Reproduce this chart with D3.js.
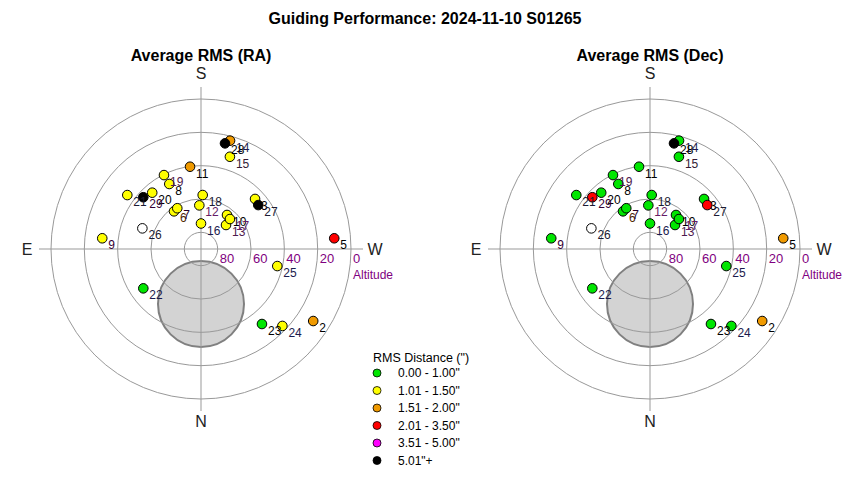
<!DOCTYPE html>
<html>
<head>
<meta charset="utf-8">
<script src="https://cdn.jsdelivr.net/npm/d3@7"></script>
<style>
  body { margin: 0; background: #fff; }
  svg { font-family: "Liberation Sans", Arial, sans-serif; }
</style>
</head>
<body>
<div id="chart"></div>
<script>
// Guide frames: id, azimuth (deg, N=0, E=90), altitude (deg)
var frameIds  = [2, 3, 5, 6, 7, 8, 9, 10, 11, 12, 13, 14, 15, 16, 17, 18, 19, 20, 21, 22, 23, 24, 25, 26, 27, 28, 29];
var azimuth   = [302.7, 227.2, 265.4, 144.4, 149.8, 154.0, 96.2, 217.4, 172.4, 177.8, 226.2, 195.0, 197.4, 180.0, 224.0, 181.8, 153.4, 139.1, 126.2, 55.7, 320.9, 313.4, 282.6, 109.4, 232.5, 192.8, 131.9];
var altitude  = [10.0, 45.8, 9.8, 62.2, 61.7, 46.6, 30.4, 64.3, 40.2, 63.8, 69.2, 22.7, 32.0, 74.7, 65.0, 57.6, 40.4, 45.3, 35.2, 48.1, 32.0, 22.8, 43.1, 52.7, 46.7, 25.0, 43.5];
// Average RMS values in arcsec (null = no data)
var rmsRA     = [1.8, 1.3, 2.4, 1.2, 1.3, 1.2, 1.4, 1.3, 1.7, 1.2, 1.3, 1.6, 1.4, 1.2, 1.3, 1.1, 1.2, 1.3, 1.4, 0.9, 0.9, 1.2, 1.3, null, 5.5, 6.2, 5.3];
var rmsDec    = [1.6, 0.8, 1.7, 0.7, 0.7, 0.8, 0.9, 0.6, 0.8, 0.7, 0.6, 0.9, 0.8, 0.7, 0.6, 0.7, 0.8, 0.9, 0.9, 0.8, 0.7, 0.6, 0.8, null, 2.3, 5.6, 2.6];

var altTicks   = [80, 60, 40, 20, 0];
var binEdges   = [1.005, 1.505, 2.005, 3.505, 5.005];
var binLabels  = ['0.00 - 1.00"', '1.01 - 1.50"', '1.51 - 2.00"', '2.01 - 3.50"', '3.51 - 5.00"', '5.01"+'];
var binColors  = ["#00e600", "#ffff00", "#f09a00", "#ff0000", "#ff00ff", "#000000"];

// pole / obstruction zone
var zoneAz = 0, zoneAlt = 57, zoneRadius = 25.8;

// label colours per frame id
var labelColor = { 6: "#4d2600", 7: "#260026", 12: "#661a66", 13: "#4d1a4d", 15: "#331a33", 17: "#661a66", 19: "#4d1a4d", 29: "#330033", 9: "#330033",
                   14: "#1a1a4d", 16: "#1a1a4d", 18: "#1a1a33", 21: "#1a1a33", 22: "#1a1a4d", 24: "#1a1a4d", 25: "#1a1a4d", 26: "#1a1a33", 27: "#1a1a33" };

window.onload = function() {
    var width = 850, height = 480, R = 150;

    var svg = d3.select("#chart").append("svg")
        .attr("width", width)
        .attr("height", height);

    var r = d3.scaleLinear().domain([90, 0]).range([0, R]);
    var color = d3.scaleThreshold().domain(binEdges).range(binColors);

    function px(az, alt) {
        var a = az * Math.PI / 180;
        return [-r(alt) * Math.sin(a), r(alt) * Math.cos(a)];
    }

    svg.append("text")
        .attr("x", 425).attr("y", 24)
        .attr("text-anchor", "middle")
        .attr("font-size", 16).attr("font-weight", "bold")
        .text("Guiding Performance: 2024-11-10 S01265");

    var frames = frameIds.map(function(id, i) {
        return { id: id, az: azimuth[i], alt: altitude[i], ra: rmsRA[i], dec: rmsDec[i] };
    });

    function drawPolar(cx, cy, title, key) {
        var g = svg.append("g").attr("transform", "translate(" + cx + "," + cy + ")");

        g.append("text")
            .attr("x", 0).attr("y", -188)
            .attr("text-anchor", "middle")
            .attr("font-size", 16).attr("font-weight", "bold")
            .text(title);

        // obstruction zone
        var zc = px(zoneAz, zoneAlt);
        g.append("circle")
            .attr("cx", zc[0]).attr("cy", zc[1])
            .attr("r", r(90 - zoneRadius))
            .attr("fill", "#d3d3d3")
            .attr("stroke", "#808080")
            .attr("stroke-width", 2);

        // rings
        g.selectAll(".ring").data(altTicks).enter().append("circle")
            .attr("r", function(d) { return r(d); })
            .attr("fill", "none")
            .attr("stroke", "#999")
            .attr("stroke-width", 1);

        var ext = R + 12;
        g.append("line").attr("x1", -ext).attr("x2", ext).attr("y1", 0).attr("y2", 0).attr("stroke", "#999");
        g.append("line").attr("y1", -ext).attr("y2", ext).attr("x1", 0).attr("x2", 0).attr("stroke", "#999");

        // altitude labels
        g.selectAll(".alt").data(altTicks).enter().append("text")
            .attr("x", function(d) { return r(d) + 2; })
            .attr("y", 14)
            .attr("font-size", 13)
            .attr("fill", "#800080")
            .text(function(d) { return d; });
        g.append("text")
            .attr("x", R + 2).attr("y", 30)
            .attr("font-size", 12)
            .attr("fill", "#800080")
            .text("Altitude");

        // compass
        var comp = [["S", 0, -R - 20], ["N", 0, R + 28], ["E", -R - 24, 6], ["W", R + 24, 6]];
        g.selectAll(".cmp").data(comp).enter().append("text")
            .attr("x", function(d) { return d[1]; })
            .attr("y", function(d) { return d[2]; })
            .attr("text-anchor", "middle")
            .attr("font-size", 16)
            .attr("fill", "#222")
            .text(function(d) { return d[0]; });

        // points
        g.selectAll(".pt").data(frames).enter().append("circle")
            .attr("cx", function(d) { return px(d.az, d.alt)[0]; })
            .attr("cy", function(d) { return px(d.az, d.alt)[1]; })
            .attr("r", 4.8)
            .attr("fill", function(d) { return d[key] == null ? "#fff" : color(d[key]); })
            .attr("stroke", "#000")
            .attr("stroke-width", 1);

        g.selectAll(".lbl").data(frames).enter().append("text")
            .attr("x", function(d) { return px(d.az, d.alt)[0] + 6; })
            .attr("y", function(d) { return px(d.az, d.alt)[1] + 11; })
            .attr("font-size", 12)
            .attr("fill", function(d) { return labelColor[d.id] || "#000"; })
            .text(function(d) { return d.id; });
    }

    drawPolar(201, 249, "Average RMS (RA)", "ra");
    drawPolar(650, 249, "Average RMS (Dec)", "dec");

    // legend
    var lg = svg.append("g").attr("transform", "translate(373,362)");
    lg.append("text")
        .attr("x", 0).attr("y", 0)
        .attr("font-size", 12.5)
        .text('RMS Distance (")');
    var items = lg.selectAll(".li").data(binLabels).enter().append("g")
        .attr("transform", function(d, i) { return "translate(0," + (11 + i * 17.5) + ")"; });
    items.append("circle")
        .attr("cx", 4).attr("cy", 0).attr("r", 4)
        .attr("fill", function(d, i) { return binColors[i]; })
        .attr("stroke", "#000").attr("stroke-width", 0.8);
    items.append("text")
        .attr("x", 25).attr("y", 4)
        .attr("font-size", 12)
        .text(function(d) { return d; });
};
</script>
</body>
</html>
